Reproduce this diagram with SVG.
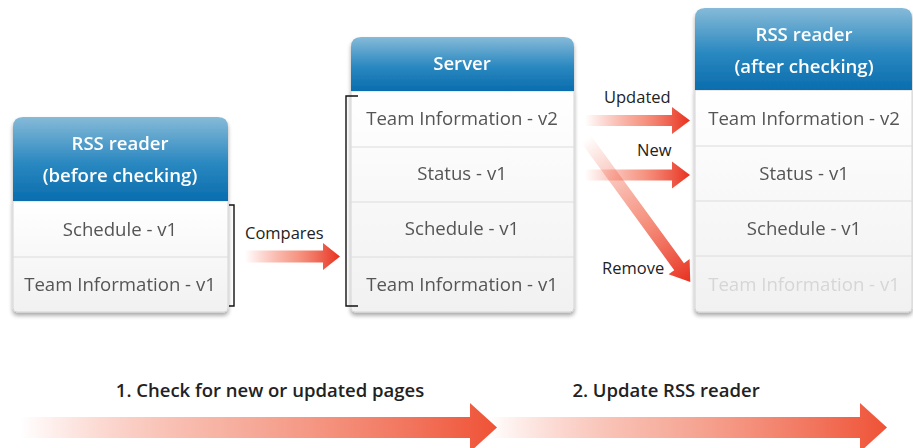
<svg xmlns="http://www.w3.org/2000/svg" width="913" height="448" viewBox="0 0 913 448">
<defs>
<linearGradient id="hdr" x1="0" y1="0" x2="0" y2="1">
<stop offset="0" stop-color="#86bad8"/>
<stop offset="0.55" stop-color="#2a88c0"/>
<stop offset="1" stop-color="#0a6dae"/>
</linearGradient>
<linearGradient id="row" x1="0" y1="0" x2="0" y2="1">
<stop offset="0" stop-color="#ffffff"/>
<stop offset="1" stop-color="#f1f1f1"/>
</linearGradient>
<linearGradient id="arr" x1="0" y1="0" x2="1" y2="0">
<stop offset="0" stop-color="#f04a2e" stop-opacity="0"/>
<stop offset="0.55" stop-color="#f26a50" stop-opacity="0.7"/>
<stop offset="1" stop-color="#e8301f"/>
</linearGradient>
<linearGradient id="big" x1="0" y1="0" x2="1" y2="0">
<stop offset="0" stop-color="#f05a3c" stop-opacity="0"/>
<stop offset="0.4" stop-color="#f2846a" stop-opacity="0.6"/>
<stop offset="1" stop-color="#ef5236"/>
</linearGradient>
<filter id="sh" x="-10%" y="-10%" width="120%" height="125%">
<feGaussianBlur in="SourceAlpha" stdDeviation="2"/>
<feOffset dy="3"/>
<feComponentTransfer><feFuncA type="linear" slope="0.35"/></feComponentTransfer>
<feMerge><feMergeNode/><feMergeNode in="SourceGraphic"/></feMerge>
</filter>
</defs>
<style>
.hd{font-family:"Open Sans","Liberation Sans",sans-serif;font-weight:600;font-size:18.6px;fill:#ffffff;text-anchor:middle}
.rt{font-family:"Open Sans","Liberation Sans",sans-serif;font-size:18.6px;fill:#555555;text-anchor:middle}
.fd{fill:#d6d6d6}
.lb{font-family:"Open Sans","Liberation Sans",sans-serif;font-size:16.5px;fill:#222222}
.st{font-family:"Open Sans","Liberation Sans",sans-serif;font-weight:600;font-size:18.5px;fill:#222222;text-anchor:middle}
.sep{stroke:#dcdcdc;stroke-width:1}
.brd{fill:url(#row);stroke:#d4d4d4;stroke-width:1}
.br{fill:none;stroke:#111111;stroke-width:1.4}
</style>

<g id="reader-before" filter="url(#sh)">
<path class="brd" d="M13,201 H228 V308 Q228,312 224,312 H17 Q13,312 13,308 Z"/>
<path d="M13,201 V127 Q13,117 23,117 H218 Q228,117 228,127 V201 Z" fill="url(#hdr)"/>
<line class="sep" x1="13" y1="257" x2="228" y2="257"/>
<text class="hd" x="120" y="150">RSS reader</text>
<text class="hd" x="120" y="182">(before checking)</text>
<text class="rt" x="120" y="236">Schedule - v1</text>
<text class="rt" x="120" y="291">Team Information - v1</text>
</g>

<g id="server" filter="url(#sh)">
<path class="brd" d="M351,91 H574 V308 Q574,312 570,312 H355 Q351,312 351,308 Z"/>
<path d="M351,91 V47 Q351,37 361,37 H564 Q574,37 574,47 V91 Z" fill="url(#hdr)"/>
<line class="sep" x1="351" y1="147" x2="574" y2="147"/>
<line class="sep" x1="351" y1="202" x2="574" y2="202"/>
<line class="sep" x1="351" y1="257" x2="574" y2="257"/>
<text class="hd" x="462" y="70">Server</text>
<text class="rt" x="462" y="125">Team Information - v2</text>
<text class="rt" x="462" y="180">Status - v1</text>
<text class="rt" x="462" y="235">Schedule - v1</text>
<text class="rt" x="462" y="291">Team Information - v1</text>
</g>

<g id="reader-after" filter="url(#sh)">
<path class="brd" d="M695,90 H912 V308 Q912,312 908,312 H699 Q695,312 695,308 Z"/>
<path d="M695,90 V18 Q695,8 705,8 H902 Q912,8 912,18 V90 Z" fill="url(#hdr)"/>
<line class="sep" x1="695" y1="146" x2="912" y2="146"/>
<line class="sep" x1="695" y1="201" x2="912" y2="201"/>
<line class="sep" x1="695" y1="256" x2="912" y2="256"/>
<text class="hd" x="804" y="41">RSS reader</text>
<text class="hd" x="804" y="73">(after checking)</text>
<text class="rt" x="804" y="125">Team Information - v2</text>
<text class="rt" x="804" y="180">Status - v1</text>
<text class="rt" x="804" y="235">Schedule - v1</text>
<text class="rt fd" x="804" y="291">Team Information - v1</text>
</g>

<g id="connectors">
<path class="br" d="M229,205 H234 V306 H229"/>
<path class="br" d="M358,96 H346 V306 H358"/>
<polygon fill="url(#arr)" points="245,250.5 323,250.5 323,243 340,256.5 323,270 323,262.5 245,262.5"/>
<text class="lb" x="245" y="239">Compares</text>
<polygon fill="url(#arr)" points="585,115 672,115 672,107 690,120.5 672,134 672,126 585,126"/>
<text class="lb" x="604" y="103">Updated</text>
<polygon fill="url(#arr)" points="585,169.5 672,169.5 672,161.5 690,175 672,188.5 672,180.5 585,180.5"/>
<text class="lb" x="637" y="156">New</text>
<polygon fill="url(#arr)" transform="translate(586,139) rotate(53.9)" points="0,-6 158,-6 158,-13 177,0 158,13 158,6 0,6"/>
<text class="lb" x="602" y="274">Remove</text>
</g>

<g id="steps">
<polygon fill="url(#big)" points="20,417 470,417 470,403 497,427.5 470,452 470,438 20,438"/>
<polygon fill="url(#big)" points="488,417 860,417 860,403 887,427.5 860,452 860,438 488,438"/>
<text class="st" x="270" y="397">1. Check for new or updated pages</text>
<text class="st" x="666" y="397">2. Update RSS reader</text>
</g>
</svg>
